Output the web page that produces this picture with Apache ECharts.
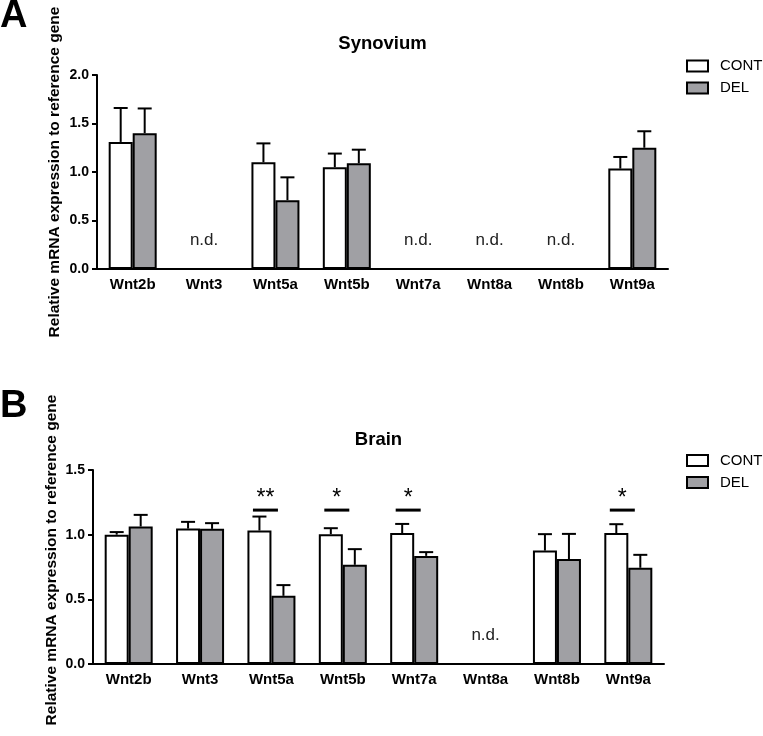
<!DOCTYPE html>
<html>
<head>
<meta charset="utf-8">
<script src="https://cdn.jsdelivr.net/npm/echarts@6/dist/echarts.min.js"></script>
<style>html,body{margin:0;padding:0;background:#fff}#c{width:763px;height:736px}</style>
</head>
<body>
<div id="c"></div>
<script>
// ---- data ----
const categories = ['Wnt2b', 'Wnt3', 'Wnt5a', 'Wnt5b', 'Wnt7a', 'Wnt8a', 'Wnt8b', 'Wnt9a'];
const yTicksA = [0, 0.5, 1.0, 1.5, 2.0];
const yTicksB = [0, 0.5, 1.0, 1.5];

// Synovium
const synContMean = [1.31, null, 1.10, 1.05, null, null, null, 1.035];
const synContSem  = [0.35, null, 0.195, 0.14, null, null, null, 0.12];
const synDelMean  = [1.40, null, 0.71, 1.09, null, null, null, 1.25];
const synDelSem   = [0.255, null, 0.235, 0.14, null, null, null, 0.17];
const synND = ['Wnt3', 'Wnt7a', 'Wnt8a', 'Wnt8b'];

// Brain
const brainContMean = [1.00, 1.047, 1.032, 1.004, 1.012, null, 0.877, 1.012];
const brainContSem  = [0.02, 0.052, 0.108, 0.046, 0.071, null, 0.127, 0.069];
const brainDelMean  = [1.063, 1.045, 0.527, 0.767, 0.836, null, 0.811, 0.744];
const brainDelSem   = [0.09, 0.044, 0.083, 0.121, 0.029, null, 0.195, 0.10];
const brainND = ['Wnt8a'];
const brainSigCats = ['Wnt5a', 'Wnt5b', 'Wnt7a', 'Wnt9a'];
const brainSigLabels = ['**', '*', '*', '*'];
const brainSigLevel = 1.19;

// ---- style ----
const FONT = '"Liberation Sans", Arial, Helvetica, sans-serif';
const BAR_W = 24;
const GRAY = '#a0a0a4';

const chart = echarts.init(document.getElementById('c'), null, {renderer: 'canvas'});

function errData(mean, sem) {
  const out = [];
  mean.forEach((m, i) => { if (m != null) out.push([i, m, sem[i]]); });
  return out;
}
function errSeries(idx, mean, sem, side) {
  return {
    type: 'custom', xAxisIndex: idx, yAxisIndex: idx, z: 3,
    data: errData(mean, sem),
    encode: {x: 0, y: 1},
    renderItem: function (params, api) {
      const c = api.value(0), m = api.value(1), s = api.value(2);
      const p0 = api.coord([c, m]);
      const p1 = api.coord([c, m + s]);
      const x = p0[0] + side * BAR_W / 2;
      const st = {stroke: '#000', lineWidth: 2};
      return {type: 'group', children: [
        {type: 'line', shape: {x1: x, y1: p0[1], x2: x, y2: p1[1]}, style: st},
        {type: 'line', shape: {x1: x - 7, y1: p1[1], x2: x + 7, y2: p1[1]}, style: st}
      ]};
    }
  };
}
function ndSeries(idx, list) {
  return {
    type: 'custom', xAxisIndex: idx, yAxisIndex: idx, z: 3,
    data: list.map(n => [categories.indexOf(n), 0]),
    encode: {x: 0, y: 1},
    renderItem: function (params, api) {
      const p = api.coord([api.value(0), 0]);
      return {type: 'text', x: p[0], y: p[1] - 28.5,
        style: {text: 'n.d.', font: '17px ' + FONT, fill: '#222', align: 'center', verticalAlign: 'middle'}};
    }
  };
}
function sigSeries(idx, cats, labels, level) {
  return {
    type: 'custom', xAxisIndex: idx, yAxisIndex: idx, z: 3,
    data: cats.map(n => [categories.indexOf(n), level]),
    encode: {x: 0, y: 1},
    renderItem: function (params, api) {
      const p = api.coord([api.value(0), api.value(1)]);
      const cx = p[0] - 6;
      return {type: 'group', children: [
        {type: 'line', shape: {x1: cx - 12.5, y1: p[1], x2: cx + 12.5, y2: p[1]}, style: {stroke: '#000', lineWidth: 3}},
        {type: 'text', x: cx, y: p[1] - 11,
          style: {text: labels[params.dataIndex], font: '23px ' + FONT, fill: '#000', align: 'center', verticalAlign: 'middle'}}
      ]};
    }
  };
}
function barSeries(idx, name, data, color) {
  return {
    type: 'bar', name: name, xAxisIndex: idx, yAxisIndex: idx, z: 2,
    data: data.map(v => v == null ? '-' : v),
    barWidth: BAR_W, barGap: '0%',
    itemStyle: {color: color, borderColor: '#000', borderWidth: 2},
    emphasis: {disabled: true}
  };
}
function xAxis(idx) {
  return {
    type: 'category', gridIndex: idx, data: categories,
    axisLine: {lineStyle: {color: '#000', width: 2}},
    axisTick: {alignWithLabel: true, length: 5, lineStyle: {color: '#000', width: 2}},
    axisLabel: {color: '#000', fontFamily: FONT, fontWeight: 'bold', fontSize: 15, margin: 8}
  };
}
function yAxis(idx, ticks) {
  return {
    type: 'value', gridIndex: idx, min: ticks[0], max: ticks[ticks.length - 1], interval: 0.5,
    axisLine: {show: true, lineStyle: {color: '#000', width: 2}},
    axisTick: {show: true, length: 5, lineStyle: {color: '#000', width: 2}},
    splitLine: {show: false},
    axisLabel: {color: '#000', fontFamily: FONT, fontWeight: 'bold', fontSize: 14, margin: 8,
      formatter: v => v.toFixed(1)}
  };
}
function legend(top) {
  return {
    orient: 'vertical', left: 686, top: top, padding: 0, itemGap: 7,
    data: ['CONT', 'DEL'], icon: 'rect', itemWidth: 21, itemHeight: 11,
    itemStyle: {borderColor: '#000', borderWidth: 2},
    textStyle: {fontFamily: FONT, fontSize: 15, color: '#000', padding: [0, 0, 0, 7]},
    selectedMode: false
  };
}

const option = {
  animation: false,
  backgroundColor: '#fff',
  grid: [
    {left: 97, top: 75, width: 571, height: 194},
    {left: 93, top: 470, width: 571, height: 194}
  ],
  xAxis: [xAxis(0), xAxis(1)],
  yAxis: [yAxis(0, yTicksA), yAxis(1, yTicksB)],
  legend: [legend(58.5), legend(453)],
  series: [
    barSeries(0, 'CONT', synContMean, '#fff'),
    barSeries(0, 'DEL', synDelMean, GRAY),
    errSeries(0, synContMean, synContSem, -1),
    errSeries(0, synDelMean, synDelSem, 1),
    ndSeries(0, synND),
    barSeries(1, 'CONT', brainContMean, '#fff'),
    barSeries(1, 'DEL', brainDelMean, GRAY),
    errSeries(1, brainContMean, brainContSem, -1),
    errSeries(1, brainDelMean, brainDelSem, 1),
    ndSeries(1, brainND),
    sigSeries(1, brainSigCats, brainSigLabels, brainSigLevel)
  ],
  graphic: [
    {type: 'text', x: 0, y: 17, style: {text: 'A', font: 'bold 38px ' + FONT, fill: '#000', align: 'left', verticalAlign: 'middle'}},
    {type: 'text', x: 0, y: 407, style: {text: 'B', font: 'bold 38px ' + FONT, fill: '#000', align: 'left', verticalAlign: 'middle'}},
    {type: 'text', x: 382.5, y: 44, style: {text: 'Synovium', font: 'bold 18.5px ' + FONT, fill: '#000', align: 'center', verticalAlign: 'middle'}},
    {type: 'text', x: 378.5, y: 440, style: {text: 'Brain', font: 'bold 18.5px ' + FONT, fill: '#000', align: 'center', verticalAlign: 'middle'}},
    {type: 'text', x: 55, y: 172, rotation: Math.PI / 2,
      style: {text: 'Relative mRNA expression to reference gene', font: 'bold 15.5px ' + FONT, fill: '#000', align: 'center', verticalAlign: 'middle'}},
    {type: 'text', x: 52, y: 560, rotation: Math.PI / 2,
      style: {text: 'Relative mRNA expression to reference gene', font: 'bold 15.5px ' + FONT, fill: '#000', align: 'center', verticalAlign: 'middle'}}
  ]
};
chart.setOption(option);
</script>
</body>
</html>
